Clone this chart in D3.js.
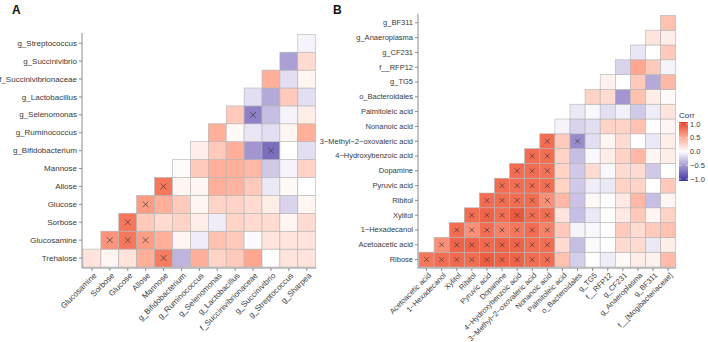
<!DOCTYPE html>
<html>
<head>
<meta charset="utf-8">
<script src="https://cdn.jsdelivr.net/npm/d3@7"></script>
<style>
  body { margin: 0; background: #fff; }
  svg { font-family: "Liberation Sans", Arial, sans-serif; }
</style>
</head>
<body>
<svg id="chart" width="708" height="342"></svg>
<script>
// panel A variables: rows use vars 0..12, columns vars 1..13
const varsA = ["Trehalose", "Glucosamine", "Sorbose", "Glucose", "Allose", "Mannose",
  "g_Bifidobacterium", "g_Ruminococcus", "g_Selenomonas", "g_Lactobacillus",
  "f_Succinivibrionaceae", "g_Succinivibrio", "g_Streptococcus", "g_Sharpea"];

// lower triangle, row r holds corr with vars r+1 .. 13
const corrA = [
  [0.15, 0.05, 0.15, 0.45, 0.72, -0.35, 0.45, 0.25, 0.3, 0.5, 0.0, 0.15, 0.15],
  [0.6, 0.75, 0.55, 0.45, 0.05, -0.08, 0.35, 0.3, -0.02, 0.15, 0.15, 0.15],
  [0.75, 0.3, 0.2, 0.25, 0.1, -0.08, 0.25, 0.2, 0.2, 0.05, 0.2],
  [0.55, 0.45, 0.3, 0.05, 0.25, 0.25, 0.2, 0.1, -0.2, 0.05],
  [0.75, 0.05, 0.05, 0.45, 0.42, 0.3, -0.1, 0.03, 0.0],
  [0.02, 0.3, 0.45, 0.45, 0.4, -0.25, -0.05, 0.25],
  [0.1, 0.3, 0.45, -0.5, -0.7, 0.0, -0.15],
  [0.45, 0.03, -0.12, -0.15, 0.05, 0.45],
  [0.3, -0.6, -0.3, -0.05, 0.1],
  [-0.15, -0.4, 0.3, -0.15],
  [0.45, -0.15, 0.05],
  [-0.45, 0.2],
  [-0.05]
];
const marksA = [[0, 5], [1, 2], [1, 3], [1, 4], [2, 3], [3, 4], [4, 5], [6, 11], [8, 10]];

// panel B variables
const varsB = ["Ribose", "Acetoacetic acid", "1\u2212Hexadecanol", "Xylitol", "Ribitol",
  "Pyruvic acid", "Dopamine", "4\u2212Hydroxybenzoic acid", "3\u2212Methyl\u22122\u2212oxovaleric acid",
  "Nonanoic acid", "Palmitoleic acid", "o_Bacteroidales", "g_TG5", "f__RFP12", "g_CF231",
  "g_Anaeroplasma", "g_BF311", "f__[Mogibacteriaceae]"];

const corrB = [
  [0.75, 0.8, 0.82, 0.8, 0.88, 0.85, 0.85, 0.8, 0.8, 0.35, -0.22, 0.0, -0.08, 0.03, 0.1, 0.08, 0.38],
  [0.62, 0.85, 0.85, 0.82, 0.85, 0.85, 0.8, 0.8, 0.2, -0.3, -0.02, 0.0, 0.2, 0.2, -0.1, 0.1],
  [0.8, 0.62, 0.8, 0.7, 0.75, 0.8, 0.7, 0.3, -0.05, -0.03, 0.0, 0.3, 0.2, 0.3, 0.35],
  [0.8, 0.85, 0.8, 0.9, 0.8, 0.8, 0.15, -0.3, -0.1, 0.0, 0.12, 0.3, 0.05, 0.25],
  [0.8, 0.8, 0.8, 0.8, 0.62, 0.4, -0.28, 0.03, 0.0, 0.12, 0.4, -0.3, 0.05],
  [0.8, 0.8, 0.8, 0.8, 0.25, -0.25, -0.08, -0.1, 0.25, 0.25, 0.0, 0.3],
  [0.8, 0.8, 0.78, 0.25, -0.25, 0.2, -0.03, 0.2, 0.2, -0.25, 0.0],
  [0.8, 0.8, 0.25, -0.3, -0.03, 0.1, 0.25, 0.4, 0.05, 0.1],
  [0.8, 0.3, -0.55, -0.15, 0.05, 0.2, 0.0, -0.1, 0.1],
  [-0.05, -0.2, -0.15, 0.25, 0.25, 0.35, 0.0, 0.05],
  [-0.1, -0.03, -0.15, -0.07, -0.25, -0.08, 0.15],
  [0.25, 0.2, -0.5, 0.35, 0.1, 0.03],
  [0.08, 0.0, 0.3, -0.4, 0.4],
  [-0.2, 0.5, 0.3, -0.05],
  [-0.12, 0.0, 0.3],
  [0.15, 0.1],
  [0.35]
];
const marksB = [
  [0, 1], [0, 2], [0, 3], [0, 4], [0, 5], [0, 6], [0, 7], [0, 8], [0, 9],
  [1, 2], [1, 3], [1, 4], [1, 5], [1, 6], [1, 7], [1, 8], [1, 9],
  [2, 3], [2, 4], [2, 5], [2, 6], [2, 7], [2, 8], [2, 9],
  [3, 4], [3, 5], [3, 6], [3, 7], [3, 8], [3, 9],
  [4, 5], [4, 6], [4, 7], [4, 8], [4, 9],
  [5, 6], [5, 7], [5, 8], [5, 9],
  [6, 7], [6, 8], [6, 9],
  [7, 8], [7, 9],
  [8, 9], [8, 11]
];

const legendTicks = [1.0, 0.5, 0.0, -0.5, -1.0];

const color = d3.scaleLinear()
  .domain([-1, 0, 1])
  .range(["#3d36a0", "#ffffff", "#e6402a"])
  .interpolate(d3.interpolateLab);

const svg = d3.select("#chart");
const axisColor = "#8c8c8c";
const textColor = "#3a3a3a";

function drawPanel(opts) {
  const { vars, corr, marks, x0, x1, yTop, yBot, fontSize, label, labelX } = opts;
  const n = vars.length - 1;
  const x = d3.scaleBand().domain(d3.range(1, n + 1)).range([x0, x1]);
  const y = d3.scaleBand().domain(d3.range(0, n)).range([yBot, yTop]);

  const cells = [];
  corr.forEach((row, r) => row.forEach((v, i) => cells.push({ r, c: r + 1 + i, v })));

  const g = svg.append("g");
  g.selectAll("rect.cell")
    .data(cells)
    .enter()
    .append("rect")
    .attr("class", "cell")
    .attr("x", d => x(d.c))
    .attr("y", d => y(d.r))
    .attr("width", x.bandwidth())
    .attr("height", y.bandwidth())
    .attr("fill", d => color(d.v))
    .attr("stroke", "#b4b4b4")
    .attr("stroke-width", 0.6);

  // cross markers
  const s = Math.min(x.bandwidth(), y.bandwidth()) * 0.16;
  const mk = g.selectAll("g.mark")
    .data(marks)
    .enter()
    .append("g")
    .attr("transform", d => `translate(${x(d[1]) + x.bandwidth() / 2},${y(d[0]) + y.bandwidth() / 2})`);
  mk.append("path")
    .attr("d", `M${-s},${-s}L${s},${s}M${-s},${s}L${s},${-s}`)
    .attr("stroke", "#3a3a3a")
    .attr("stroke-width", 0.7)
    .attr("fill", "none");

  // axes
  const yAxis = d3.axisLeft(y).tickSize(3).tickPadding(2).tickFormat(i => vars[i]);
  const gy = g.append("g").attr("transform", `translate(${x0 - 1},0)`).call(yAxis);
  const xAxis = d3.axisBottom(x).tickSize(3).tickPadding(2).tickFormat(i => vars[i]);
  const gx = g.append("g").attr("transform", `translate(0,${yBot + 1})`).call(xAxis);

  [gy, gx].forEach(a => {
    a.select(".domain").remove();
    a.selectAll(".tick line").attr("stroke", axisColor);
    a.selectAll("text").attr("fill", textColor).style("font-size", fontSize + "px");
  });
  gx.selectAll("text")
    .attr("x", 0)
    .attr("y", 0)
    .attr("text-anchor", "end")
    .attr("dy", "0.72em")
    .attr("transform", "translate(1,4) rotate(-45)");

  // axis lines
  g.append("line")
    .attr("x1", x0 - 1).attr("x2", x0 - 1)
    .attr("y1", yTop - 1.5).attr("y2", yBot + 1)
    .attr("stroke", axisColor).attr("stroke-width", 1);
  g.append("line")
    .attr("x1", x0 - 1).attr("x2", x1 + 0.5)
    .attr("y1", yBot + 1).attr("y2", yBot + 1)
    .attr("stroke", axisColor).attr("stroke-width", 1);

  svg.append("text")
    .attr("x", labelX).attr("y", 14)
    .attr("font-weight", "bold")
    .style("font-size", "12px")
    .attr("fill", "#111")
    .text(label);
}

drawPanel({ vars: varsA, corr: corrA, marks: marksA, x0: 83, x1: 315.7, yTop: 34.3, yBot: 267,
  fontSize: 8, label: "A", labelX: 12 });
drawPanel({ vars: varsB, corr: corrB, marks: marksB, x0: 419, x1: 675.7, yTop: 15.4, yBot: 267,
  fontSize: 7.5, label: "B", labelX: 333 });

// legend
const lg = svg.append("g");
const ly = d3.scaleLinear().domain([-1, 1]).range([179, 124]);
const defs = svg.append("defs");
const grad = defs.append("linearGradient")
  .attr("id", "corr-grad")
  .attr("x1", "0%").attr("y1", "100%").attr("x2", "0%").attr("y2", "0%");
grad.selectAll("stop")
  .data(d3.range(0, 1.0001, 0.05))
  .enter()
  .append("stop")
  .attr("offset", t => (t * 100) + "%")
  .attr("stop-color", t => color(-1 + 2 * t));

lg.append("rect")
  .attr("x", 679).attr("y", ly(1) - 2)
  .attr("width", 9).attr("height", ly(-1) - ly(1) + 4)
  .attr("fill", "url(#corr-grad)");

lg.selectAll("line.lt")
  .data(legendTicks)
  .enter()
  .append("line")
  .attr("x1", 679).attr("x2", 681)
  .attr("y1", d => ly(d)).attr("y2", d => ly(d))
  .attr("stroke", "#fff").attr("stroke-width", 0.6);
lg.selectAll("line.rt")
  .data(legendTicks)
  .enter()
  .append("line")
  .attr("x1", 686).attr("x2", 688)
  .attr("y1", d => ly(d)).attr("y2", d => ly(d))
  .attr("stroke", "#fff").attr("stroke-width", 0.6);

lg.selectAll("text.lab")
  .data(legendTicks)
  .enter()
  .append("text")
  .attr("x", 690)
  .attr("y", d => ly(d))
  .attr("dy", "0.35em")
  .style("font-size", "7.5px")
  .attr("fill", textColor)
  .text(d => d3.format(".1f")(d).replace("-", "\u2212"));

lg.append("text")
  .attr("x", 679).attr("y", 118)
  .style("font-size", "8px")
  .attr("fill", textColor)
  .text("Corr");
</script>
</body>
</html>
